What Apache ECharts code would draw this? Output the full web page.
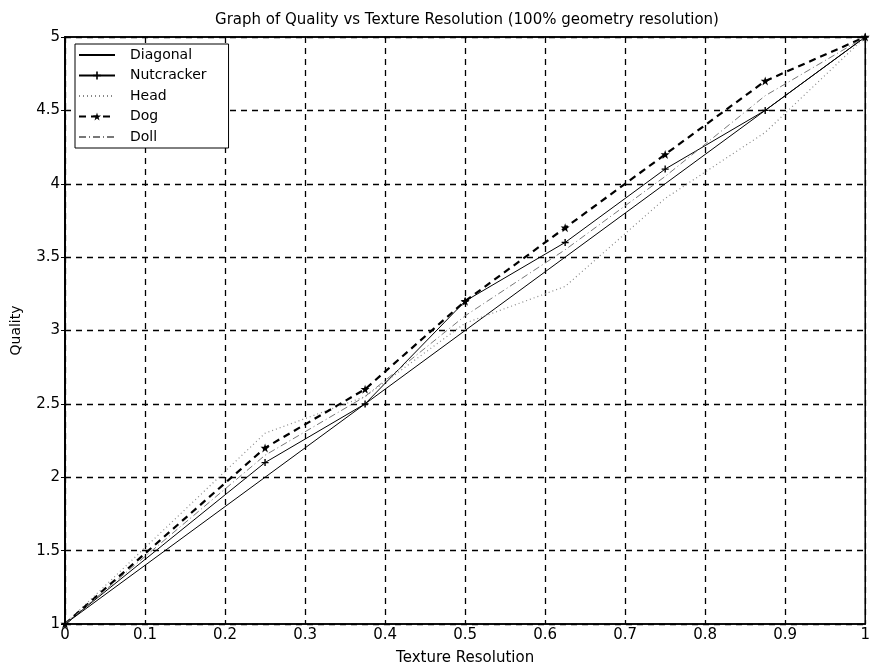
<!DOCTYPE html>
<html>
<head>
<meta charset="utf-8">
<script src="https://cdn.jsdelivr.net/npm/echarts@6/dist/echarts.min.js"></script>
<style>
    html, body { margin: 0; padding: 0; background: #fff; }
    #chart { width: 873px; height: 671px; }
</style>
</head>
<body>
<div id="chart"></div>
<script>
    // texture resolution samples
    var resolution = [0, 0.25, 0.375, 0.5, 0.625, 0.75, 0.875, 1];
    var diagonal = [1, 2, 2.5, 3, 3.5, 4, 4.5, 5];
    var nutcracker = [1, 2.1, 2.5, 3.2, 3.6, 4.1, 4.5, 5];
    var head = [1, 2.3, 2.55, 3.05, 3.3, 3.9, 4.35, 5];
    var dog = [1, 2.2, 2.6, 3.2, 3.7, 4.2, 4.7, 5];
    var doll = [1, 2.15, 2.55, 3.1, 3.55, 4.05, 4.6, 5];
    var xTicks = ['0', '0.1', '0.2', '0.3', '0.4', '0.5', '0.6', '0.7', '0.8', '0.9', '1'];
    var yTicks = ['1', '1.5', '2', '2.5', '3', '3.5', '4', '4.5', '5'];

    function pairs(values) {
        return resolution.map(function (x, i) { return [x, values[i]]; });
    }

    var font = 'DejaVu Sans';
    var plus = 'path://M4,0h2v4h4v2h-4v4h-2v-4h-4v-2h4z';
    var star = 'path://M5,0L6.2,3.5L10,3.5L7,5.8L8.1,9.5L5,7.2L1.9,9.5L3,5.8L0,3.5L3.8,3.5Z';

    var chart = echarts.init(document.getElementById('chart'));
    var gridLine = {show: true, lineStyle: {color: '#000', type: [6, 5], width: 1.3}};
    var frameAxis = {show: true, lineStyle: {color: '#000', width: 1.5}};
    var innerTick = {show: true, inside: true, length: 4, lineStyle: {color: '#000'}};

    var option = {
        backgroundColor: '#fff',
        animation: false,
        title: {
            text: 'Graph of Quality vs Texture Resolution (100% geometry resolution)',
            left: 462,
            top: 8,
            textAlign: 'center',
            textStyle: {fontFamily: font, fontSize: 15, fontWeight: 'normal', color: '#000'}
        },
        legend: {
            orient: 'vertical',
            left: 75,
            top: 44,
            padding: [4, 22, 4, 3],
            itemWidth: 36,
            itemHeight: 10,
            itemGap: 6.5,
            backgroundColor: '#fff',
            borderColor: '#000',
            borderWidth: 1,
            textStyle: {fontFamily: font, fontSize: 14, color: '#000', padding: [0, 0, 0, 10]},
            data: [
                {name: 'Diagonal', itemStyle: {opacity: 0}},
                {name: 'Nutcracker'},
                {name: 'Head', itemStyle: {opacity: 0}},
                {name: 'Dog'},
                {name: 'Doll', itemStyle: {opacity: 0}}
            ]
        },
        grid: {
            left: 65,
            right: 4,
            top: 37,
            bottom: 43,
            show: true,
            borderColor: '#000',
            borderWidth: 1.5
        },
        xAxis: [{
            type: 'value',
            min: 0,
            max: 1,
            interval: 0.1,
            name: 'Texture Resolution',
            nameLocation: 'middle',
            nameGap: 27,
            nameTextStyle: {fontFamily: font, fontSize: 15, color: '#000'},
            axisLine: frameAxis,
            axisTick: innerTick,
            axisLabel: {
                fontFamily: font, fontSize: 15, color: '#000', margin: 4,
                formatter: function (v) { return xTicks[Math.round(v * 10)]; }
            },
            splitLine: gridLine
        }, {
            type: 'value', position: 'top', min: 0, max: 1, interval: 0.1,
            axisLine: frameAxis,
            axisTick: innerTick,
            axisLabel: {show: false},
            splitLine: {show: false}
        }],
        yAxis: [{
            type: 'value',
            min: 1,
            max: 5,
            interval: 0.5,
            name: 'Quality',
            nameLocation: 'middle',
            nameGap: 42,
            nameTextStyle: {fontFamily: font, fontSize: 14, color: '#000'},
            axisLine: frameAxis,
            axisTick: innerTick,
            axisLabel: {
                fontFamily: font, fontSize: 15, color: '#000', margin: 5,
                formatter: function (v) { return yTicks[Math.round((v - 1) * 2)]; }
            },
            splitLine: gridLine
        }, {
            type: 'value', position: 'right', min: 1, max: 5, interval: 0.5,
            axisLine: frameAxis,
            axisTick: innerTick,
            axisLabel: {show: false},
            splitLine: {show: false}
        }],
        series: [{
            name: 'Diagonal',
            type: 'line',
            data: pairs(diagonal),
            symbol: 'none',
            color: '#000',
            lineStyle: {color: '#000', width: 1}
        }, {
            name: 'Nutcracker',
            type: 'line',
            data: pairs(nutcracker),
            symbol: plus,
            symbolSize: 7,
            color: '#000',
            itemStyle: {color: '#000'},
            lineStyle: {color: '#000', width: 1}
        }, {
            name: 'Head',
            type: 'line',
            data: pairs(head),
            symbol: 'none',
            color: '#888',
            lineStyle: {color: '#888', width: 1.2, type: [1, 3]}
        }, {
            name: 'Dog',
            type: 'line',
            data: pairs(dog),
            symbol: star,
            symbolSize: 9,
            color: '#000',
            itemStyle: {color: '#000'},
            lineStyle: {color: '#000', width: 2.2, type: [7, 5]}
        }, {
            name: 'Doll',
            type: 'line',
            data: pairs(doll),
            symbol: 'none',
            color: '#777',
            lineStyle: {color: '#777', width: 1, type: [7, 3, 1, 3]}
        }]
    };
    chart.setOption(option);
</script>
</body>
</html>
